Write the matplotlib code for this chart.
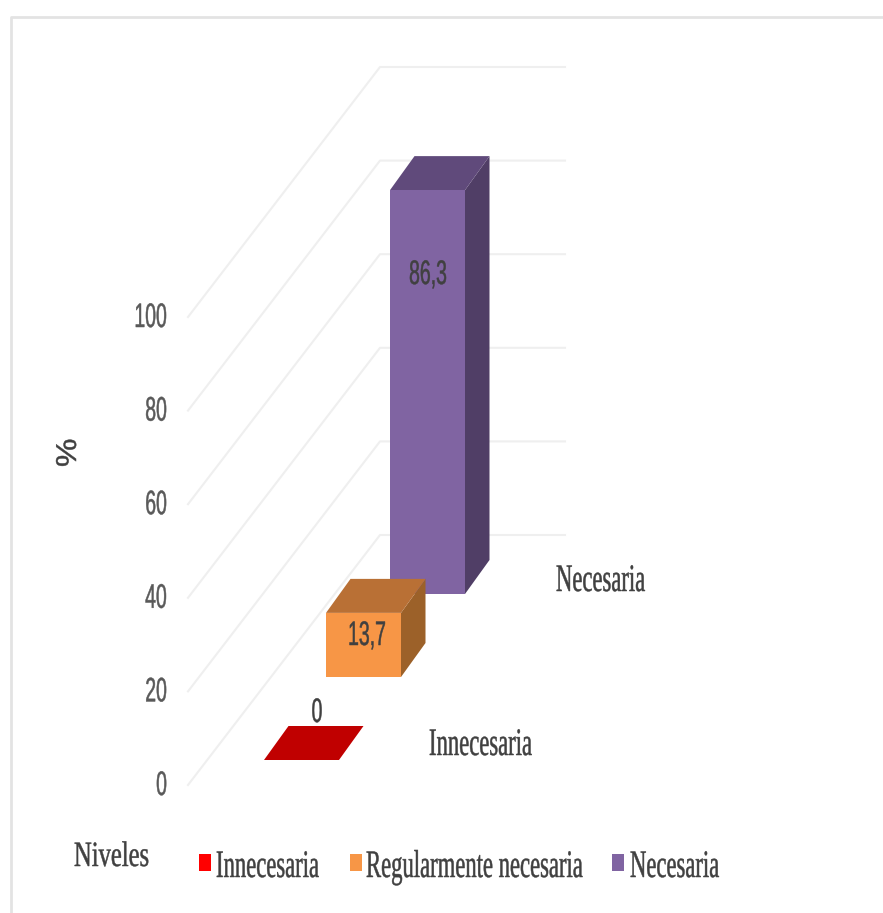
import matplotlib
matplotlib.use("Agg")
import matplotlib.pyplot as plt
import matplotlib.patheffects as pe
from matplotlib.patches import Polygon, Rectangle
from matplotlib.transforms import Affine2D

# values
categories = ["Innecesaria", "Regularmente necesaria", "Necesaria"]
values = [0, 13.7, 86.3]
value_labels = ["0", "13,7", "86,3"]
ticks = [0, 20, 40, 60, 80, 100]

front_colors = ["#c00000", "#f79646", "#8064a2"]
top_colors = ["#c00000", "#b97035", "#604a7b"]
side_colors = ["#c00000", "#9c6129", "#503e66"]
legend_colors = ["#ff0000", "#f79646", "#8064a2"]

# fake 3D layout, in pixels of the picture
UNIT = 4.68
FLOOR_FRONT = 785
FLOOR_BACK = 535
WALL_X0, WALL_X1, WALL_X2 = 188, 380, 565
BAR_W = 75
DEPTH_X, DEPTH_Y = 24.5, -34


class Stretch(pe.AbstractPathEffect):
    # the source text is very condensed, so pull the glyphs up from the baseline
    # and thicken them a little with a thin stroke
    def __init__(self, k, stroke=0.35):
        super().__init__()
        self.k = k
        self.stroke = stroke

    def draw_path(self, renderer, gc, tpath, affine, rgbFace=None):
        gc0 = renderer.new_gc()
        gc0.copy_properties(gc)
        gc0.set_foreground(rgbFace)
        gc0.set_linewidth(self.stroke)
        renderer.draw_path(gc0, tpath, Affine2D().scale(1, self.k) + affine, rgbFace)
        gc0.restore()


def label(x, y, s, size, k, family="Liberation Serif", color="#404040", ha="left", **kw):
    ax.text(x, y, s, fontsize=size, family=family, color=color, ha=ha, va="baseline",
            path_effects=[Stretch(k)], zorder=10, **kw)


fig = plt.figure(figsize=(8.83, 9.13), dpi=100)
ax = fig.add_axes([0, 0, 1, 1])
ax.set_xlim(0, 883)
ax.set_ylim(913, 0)
ax.axis("off")

# chart frame
ax.plot([883, 11, 11], [17, 17, 913], color="#e3e3e3", lw=2)

# walls
for t in ticks:
    h = t * UNIT
    ax.plot([WALL_X0, WALL_X1, WALL_X2], [FLOOR_FRONT - h, FLOOR_BACK - h, FLOOR_BACK - h],
            color="#efefef", lw=1.5)
    label(167, FLOOR_FRONT - h + 10, str(t), 14, 1.75, family="Liberation Sans",
          color="#595959", ha="right")

# bars, back to front
bar_x = [264, 326, 390]
bar_y = [760, 677, 594]
for i in [2, 1, 0]:
    x0, y0 = bar_x[i], bar_y[i]
    x1 = x0 + BAR_W
    top = y0 - values[i] * UNIT
    ax.add_patch(Polygon([(x1, y0), (x1 + DEPTH_X, y0 + DEPTH_Y), (x1 + DEPTH_X, top + DEPTH_Y), (x1, top)],
                         color=side_colors[i], lw=0, zorder=3))
    ax.add_patch(Polygon([(x0, top), (x1, top), (x1 + DEPTH_X, top + DEPTH_Y), (x0 + DEPTH_X, top + DEPTH_Y)],
                         color=top_colors[i], lw=0, zorder=3))
    ax.add_patch(Rectangle((x0, top), BAR_W, values[i] * UNIT, color=front_colors[i], lw=0, zorder=3))

# value labels
label_x = [317, 367, 428]
label_y = [722, 645, 284]
for i in range(3):
    label(label_x[i], label_y[i], value_labels[i], 14, 1.75, family="Liberation Sans", ha="center")

# category labels, only the first and last show on the axis
label(429, 755, categories[0], 16.3, 1.72)
label(556, 591, categories[2], 16.3, 1.72)

# axis titles
label(74, 866, "Niveles", 17.7, 1.45)
label(53, 460, "%", 23, 0.9, family="Liberation Sans", rotation=90)

# legend
legend_marker_x = [199, 350, 612]
legend_text_x = [216, 366, 630]
for i in range(3):
    ax.add_patch(Rectangle((legend_marker_x[i], 854), 12, 17, color=legend_colors[i], lw=0))
    label(legend_text_x[i], 877, categories[i], 16.3, 1.72)

fig.savefig("out.png", dpi=100)
